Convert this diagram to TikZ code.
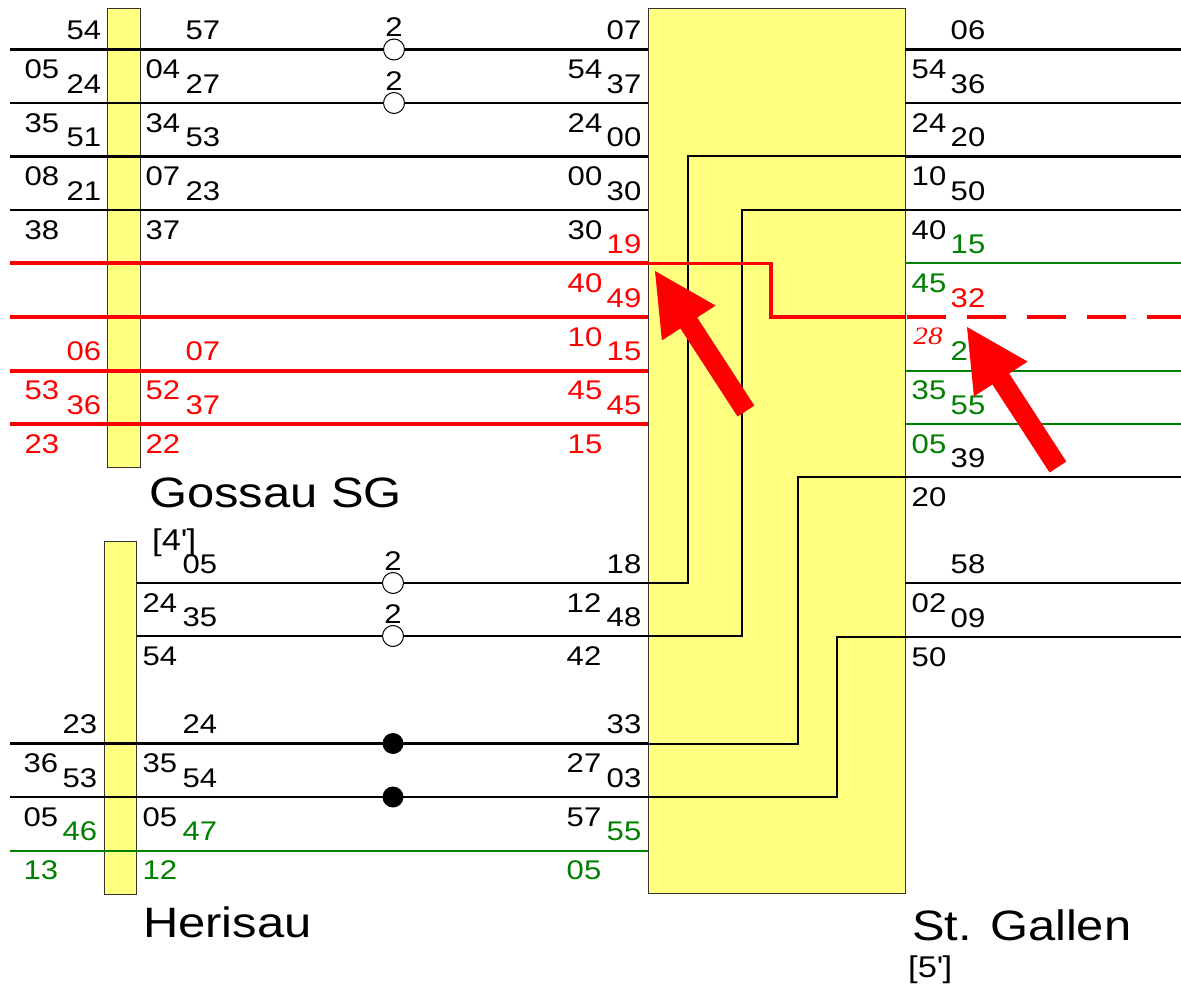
\documentclass[tikz,border=0pt]{standalone}
\usepackage{fontspec}
\setmainfont{Liberation Sans}[FakeStretch=1.15]
\newfontfamily\noteserif{Liberation Serif}[FakeStretch=1.17]
\definecolor{nodeyellow}{RGB}{255,255,128}
\definecolor{tgreen}{RGB}{0,128,0}
\definecolor{tred}{RGB}{255,0,0}
\newcommand\tm[4][]{\node[tt,#1] (#2) at (#3) {#4};}
\tikzset{
  tt/.style={inner sep=0pt, font=\fontsize{27}{27}\selectfont},
  rd/.style={text=tred},
  gr/.style={text=tgreen},
  note/.style={inner sep=0pt, text=tred, font=\noteserif\itshape\fontsize{25}{25}\selectfont},
  station/.style={inner sep=0pt, anchor=west, font=\fontsize{42.5}{42.5}\selectfont},
  minutes/.style={inner sep=0pt, anchor=west, font=\fontsize{30}{30}\selectfont},
  platform/.style={rectangle, inner sep=0pt, anchor=north west, fill=nodeyellow, draw=black!80, line width=1pt},
  track/.style={draw=black, line width=2.2pt},
  redtrack/.style={draw=tred, line width=4pt},
  greentrack/.style={draw=tgreen, line width=2pt},
  passhalt/.style={circle, inner sep=0pt, minimum size=21pt, draw=black, fill=white, line width=1pt},
  stophalt/.style={circle, inner sep=0pt, minimum size=21pt, fill=black},
  pointer/.style={fill=tred}
}
\begin{document}
\begin{tikzpicture}[x=1pt,y=-1pt]
\fill[white] (0,0) rectangle (1181,992);
\useasboundingbox (0,0) rectangle (1181,992);

% platforms
\node[platform, minimum width=33pt, minimum height=459pt] (gb) at (107,8) {};
\node[platform, minimum width=32pt, minimum height=353pt] (hb) at (104,541) {};
\node[platform, minimum width=257pt, minimum height=885pt] (sg) at (648,8) {};

% line starts
\coordinate (g1) at (10,49.5);
\coordinate (g2) at (10,103);
\coordinate (g3) at (10,156.5);
\coordinate (g4) at (10,210);
\coordinate (g5) at (10,263.5);
\coordinate (g6) at (10,317);
\coordinate (g7) at (10,370.5);
\coordinate (g8) at (10,424);
\coordinate (h1) at (hb.east |- 0,583);
\coordinate (h2) at (hb.east |- 0,636);
\coordinate (h3) at (10,743.5);
\coordinate (h4) at (10,797);
\coordinate (h5) at (10,850.5);
% right-hand line starts and ends
\foreach \n/\y in {1/49.5,2/103,3/156.5,4/210,5/263.5,6/317,7/370.5,8/424,9/477,10/583,11/637}{
  \coordinate (r\n) at (905,\y);
  \coordinate (e\n) at (1181,\y);
}
% bends inside St. Gallen
\coordinate (k1) at (687.5,400);
\coordinate (k2) at (742,400);
\coordinate (k3) at (798,600);
\coordinate (k4) at (836.5,700);
\coordinate (kr) at (771,290);

% Gossau lines
\foreach \n in {1,2,3,4}{\draw[track] (g\n) -- (g\n -| sg.west);}
\foreach \n in {5,6,7,8}{\draw[redtrack] (g\n) -- (g\n -| sg.west);}
% Herisau lines
\draw[track] (h1) -- (h1 -| sg.west);
\draw[track] (h2) -- (h2 -| sg.west);
\draw[track] (h3) -- (h3 -| sg.west);
\draw[track] (h4) -- (h4 -| sg.west);
\draw[greentrack] (h5) -- (h5 -| sg.west);

% through connections across St. Gallen
\draw[track, line width=2pt] (h1 -| sg.west) -| (k1) |- (r3);
\draw[track, line width=2pt] (h2 -| sg.west) -| (k2) |- (r4);
\draw[track, line width=2pt] (h3 -| sg.west) -| (k3) |- (r9);
\draw[track, line width=2pt] (h4 -| sg.west) -| (k4) |- (r11);
\draw[redtrack, line width=3.2pt] (g5 -| sg.west) -| (kr) |- (r6);

% St. Gallen lines
\foreach \n in {1,2,3,4,9,10,11}{\draw[track] (r\n) -- (e\n);}
\foreach \n in {5,7,8}{\draw[greentrack] (r\n) -- (e\n);}
\draw[redtrack, dash pattern=on 39pt off 21pt, dash phase=-2pt] (r6) -- (e6);

% halts
\node[passhalt] (c1) at (394,49.5) {};
\node[passhalt] (c2) at (394,103) {};
\node[passhalt] (c3) at (393,583) {};
\node[passhalt] (c4) at (393,636) {};
\node[stophalt] (c5) at (393,743.5) {};
\node[stophalt] (c6) at (393,797) {};
\node[tt] (n1) at (394,27.5) {2};
\node[tt] (n2) at (394,81) {2};
\node[tt] (n3) at (393,561) {2};
\node[tt] (n4) at (393,614) {2};

% Gossau, left of the platform
\tm{gla0}{84,30.5}{54}
\tm{gla1}{42,69.5}{05} \tm{glb1}{84,84}{24}
\tm{gla2}{42,123}{35} \tm{glb2}{84,137.5}{51}
\tm{gla3}{42,176.5}{08} \tm{glb3}{84,191}{21}
\tm{gla4}{42,230}{38}
\tm[rd]{glb7}{84,351.5}{06}
\tm[rd]{gla7}{42,390.5}{53} \tm[rd]{glb8}{84,405}{36}
\tm[rd]{gla8}{42,444}{23}

% Gossau, right of the platform
\tm{gra0}{203,30.5}{57}
\tm{gra1}{163,69.5}{04} \tm{grb1}{203,84}{27}
\tm{gra2}{163,123}{34} \tm{grb2}{203,137.5}{53}
\tm{gra3}{163,176.5}{07} \tm{grb3}{203,191}{23}
\tm{gra4}{163,230}{37}
\tm[rd]{grb7}{203,351.5}{07}
\tm[rd]{gra7}{163,390.5}{52} \tm[rd]{grb8}{203,405}{37}
\tm[rd]{gra8}{163,444}{22}

% St. Gallen, arrivals from Gossau
\tm{mb0}{624,30.5}{07}
\tm{ma1}{585,69.5}{54} \tm{mb1}{624,84}{37}
\tm{ma2}{585,123}{24} \tm{mb2}{624,137.5}{00}
\tm{ma3}{585,176.5}{00} \tm{mb3}{624,191}{30}
\tm{ma4}{585,230}{30} \tm[rd]{mb4}{624,244.5}{19}
\tm[rd]{ma5}{585,283.5}{40} \tm[rd]{mb5}{624,298}{49}
\tm[rd]{ma6}{585,337}{10} \tm[rd]{mb6}{624,351.5}{15}
\tm[rd]{ma7}{585,390.5}{45} \tm[rd]{mb7}{624,405}{45}
\tm[rd]{ma8}{585,444}{15}

% St. Gallen, onward side
\tm{sb0}{968,30.5}{06}
\tm{sa1}{929,69.5}{54} \tm{sb1}{968,84}{36}
\tm{sa2}{929,123}{24} \tm{sb2}{968,137.5}{20}
\tm{sa3}{929,176.5}{10} \tm{sb3}{968,191}{50}
\tm{sa4}{929,230}{40} \tm[gr]{sb4}{968,244.5}{15}
\tm[gr]{sa5}{929,283.5}{45} \tm[rd]{sb5}{968,298}{32}
\node[note] (sa6) at (928,336) {28}; \tm[gr]{sb6}{968,351.5}{25}
\tm[gr]{sa7}{929,390.5}{35} \tm[gr]{sb7}{968,405}{55}
\tm[gr]{sa8}{929,444}{05} \tm{sb8}{968,458}{39}
\tm{sa9}{929,497}{20}
\tm{sb9}{968,564}{58}
\tm{sa10}{929,603}{02} \tm{sb10}{968,618}{09}
\tm{sa11}{929,657}{50}

% Herisau, left of the platform
\tm{hlb2}{80,724.5}{23}
\tm{hla3}{41,763.5}{36} \tm{hlb3}{80,778}{53}
\tm{hla4}{41,817}{05} \tm[gr]{hlb4}{80,831.5}{46}
\tm[gr]{hla5}{41,870.5}{13}

% Herisau, right of the platform
\tm{hrb0}{200,564}{05}
\tm{hra1}{160,603}{24} \tm{hrb1}{200,617}{35}
\tm{hra2}{160,656}{54}
\tm{hrb2}{200,724.5}{24}
\tm{hra3}{160,763.5}{35} \tm{hrb3}{200,778}{54}
\tm{hra4}{160,817}{05} \tm[gr]{hrb4}{200,831.5}{47}
\tm[gr]{hra5}{160,870.5}{12}

% St. Gallen, arrivals from Herisau
\tm{lb0}{624,564}{18}
\tm{la1}{584,603}{12} \tm{lb1}{624,617}{48}
\tm{la2}{584,656}{42}
\tm{lb2}{624,724.5}{33}
\tm{la3}{584,763.5}{27} \tm{lb3}{624,778}{03}
\tm{la4}{584,817}{57} \tm[gr]{lb4}{624,831.5}{55}
\tm[gr]{la5}{584,870.5}{05}

% station names
\node[station] (gossau) at (149,493) {Gossau SG};
\node[minutes] (gmin) at (152,543) {[4\textquotesingle]};
\node[station] (herisau) at (143,922) {Herisau};
\node[station] (stgallen) at (912,925) {St. Gallen};
\node[minutes] (smin) at (908,970) {[5\textquotesingle]};

% pointers
\coordinate (tipA) at (655,271);
\coordinate (tipB) at (967,327);
\foreach \t in {tipA,tipB}{
  \fill[pointer, shift={(\t)}, rotate=123]
    (0,0) -- (-62,32) -- (-62,10) -- (-167,10) -- (-167,-10) -- (-62,-10) -- (-62,-32) -- cycle;
}
\end{tikzpicture}
\end{document}
